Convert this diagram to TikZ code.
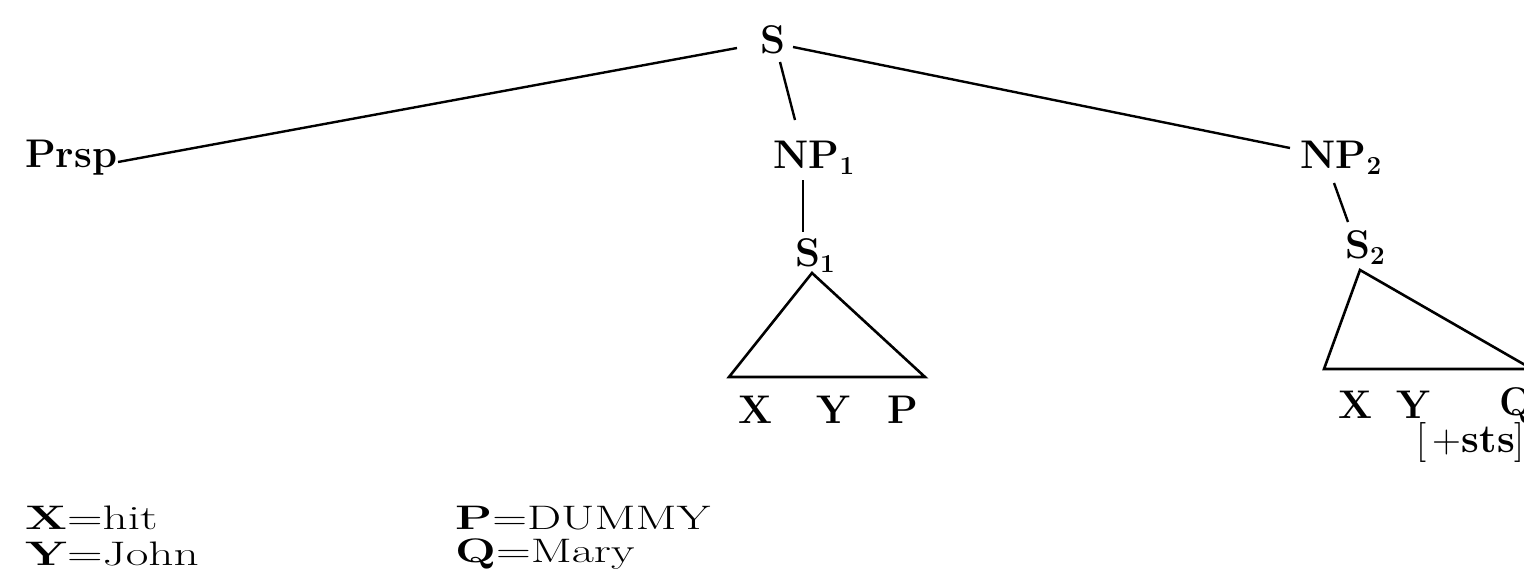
\documentclass[tikz,border=0pt]{standalone}
\usepackage{fontspec}
\usepackage{graphicx}
\begin{document}
\begin{tikzpicture}[x=1pt,y=-1pt,
  lab/.style={inner sep=0pt,font=\fontsize{40}{48}\selectfont\bfseries},
  leg/.style={inner sep=0pt,anchor=west,font=\fontsize{34}{40}\selectfont},
  edge/.style={line width=2.4pt},
  tri/.style={line width=2.6pt,line join=miter}]
\useasboundingbox (0,0) rectangle (1524,584);
\clip (0,0) rectangle (1524,584);
% nodes
\node[lab] (S) at (773,40) {S};
\node[lab,anchor=west] (Prsp) at (25,158) {Prsp};
\node[lab] (NP1) at (814,158) {NP\raisebox{-6pt}{\fontsize{26}{30}\selectfont 1}};
\node[lab] (S1) at (815,256) {S\raisebox{-6pt}{\fontsize{26}{30}\selectfont 1}};
\node[lab] (X1) at (755,410) {X};
\node[lab] (Y1) at (833,410) {Y};
\node[lab] (P1) at (903,410) {P};
\node[lab] (NP2) at (1341,158) {NP\raisebox{-6pt}{\fontsize{26}{30}\selectfont 2}};
\node[lab] (S2) at (1365,248) {S\raisebox{-6pt}{\fontsize{26}{30}\selectfont 2}};
\node[lab] (X2) at (1355,405) {X};
\node[lab] (Y2) at (1413,405) {Y};
\node[lab] (Q2) at (1516,405) {Q};
\node[inner sep=0pt,anchor=east,font=\fontsize{40}{48}\selectfont] (sts) at (1525,442) {[\,+\textbf{sts}]};
% legend
\node[leg] (lx) at (25,518) {\scalebox{1.45}[1]{\textbf{X}=hit}};
\node[leg] (ly) at (25,554) {\scalebox{1.45}[1]{\textbf{Y}=John}};
\node[leg] (lp) at (455,518) {\scalebox{1.42}[1]{\textbf{P}=DUMMY}};
\node[leg] (lq) at (455,554) {\scalebox{1.42}[1]{\textbf{Q}=Mary}};
% connector end points
\coordinate (sl) at (737,48);
\coordinate (sr) at (793,47);
\coordinate (sb) at (780,62);
\coordinate (pe) at (118,162);
\coordinate (n1t) at (795,120);
\coordinate (n1b) at (803,180);
\coordinate (s1t) at (803,232);
\coordinate (n2t) at (1290,148);
\coordinate (n2b) at (1334,183);
\coordinate (s2t) at (1348,222);
\coordinate (a1) at (812,273);
\coordinate (b1l) at (729,377);
\coordinate (b1r) at (925,377);
\coordinate (a2) at (1360,270);
\coordinate (b2l) at (1324,369);
\coordinate (b2r) at (1532,369);
% connectors
\draw[edge] (sl) -- (pe);
\draw[edge] (sr) -- (n2t);
\draw[edge] (sb) -- (n1t);
\draw[edge] (n1b) -- (s1t);
\draw[edge] (n2b) -- (s2t);
\draw[tri] (a1) -- (b1l) -- (b1r) -- cycle;
\draw[tri] (a2) -- (b2l) -- (b2r) -- cycle;
\end{tikzpicture}
\end{document}
